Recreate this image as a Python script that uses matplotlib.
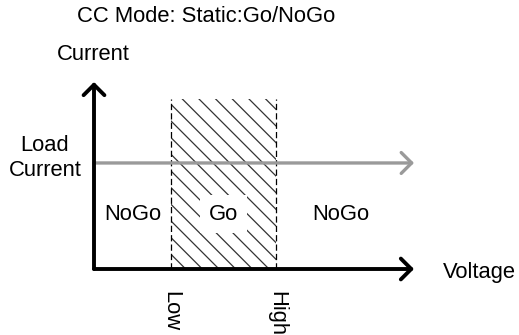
import matplotlib
matplotlib.use("Agg")
import matplotlib.pyplot as plt

plt.rcParams['font.family'] = ['Liberation Sans', 'DejaVu Sans']

# schematic values (arbitrary units, axis tips at 10)
axis_max = [10.0, 10.0]          # voltage, current
go_window = [2.4, 5.7]           # low / high voltage limit
go_top = 9.1                     # top of the hatched Go area
load_current = 5.67
window_labels = ['Low', 'High']
zone_labels = ['NoGo', 'Go', 'NoGo']
zone_x = [1.2, 4.05, 7.7]
zone_y = 2.94

fs = 15.8
fig = plt.figure(figsize=(5.19, 3.35), dpi=100)
W, H = 519, 335
ax = fig.add_axes([94 / W, 1 - 269 / H, 320 / W, 187 / H])
ax.set_xlim(0, axis_max[0])
ax.set_ylim(0, axis_max[1])
ax.axis('off')

# Go area, hatched
plt.rcParams['hatch.linewidth'] = 0.9
ax.fill_between(go_window, 0, go_top, facecolor='none', edgecolor='#333333',
                hatch='\\\\', linewidth=0, zorder=1)
for x in go_window:
    ax.plot([x, x], [0, go_top], color='black', lw=0.9, ls=(0, (5, 2.5)), zorder=2)

arrow = '->,head_length=0.75,head_width=0.75'
# load current line (grey arrow)
ax.annotate('', xy=(axis_max[0], load_current), xytext=(0, load_current),
            arrowprops=dict(arrowstyle=arrow, lw=2.4, color='#9a9a9a',
                            shrinkA=0, shrinkB=0), zorder=3)

# axes arrows
ax.annotate('', xy=(axis_max[0], 0), xytext=(0, 0),
            arrowprops=dict(arrowstyle=arrow, lw=2.8, color='black',
                            shrinkA=0, shrinkB=0), zorder=4)
ax.annotate('', xy=(0, axis_max[1]), xytext=(0, 0),
            arrowprops=dict(arrowstyle=arrow, lw=2.8, color='black',
                            shrinkA=0, shrinkB=0), zorder=4)

# zone labels
for lbl, x in zip(zone_labels, zone_x):
    kw = {}
    if lbl == 'Go':
        kw['bbox'] = dict(boxstyle='square,pad=0.4', fc='white', ec='none')
    ax.text(x, zone_y, lbl, ha='center', va='center', fontsize=fs, zorder=5, **kw)

# Low / High under the axis
for lbl, x in zip(window_labels, go_window):
    ax.text(x, -1.2, lbl, rotation=270, ha='center', va='top', fontsize=fs)

ax.text(10.9, -0.2, 'Voltage', ha='left', va='center', fontsize=fs)
ax.text(-1.53, 5.94, 'Load\nCurrent', ha='center', va='center',
        multialignment='center', fontsize=fs, linespacing=1.2)
ax.text(-1.16, 11.47, 'Current', ha='left', va='center', fontsize=fs)
ax.text(-0.53, 13.48, 'CC Mode: Static:Go/NoGo', ha='left', va='center', fontsize=fs)

fig.savefig('out.png', dpi=100)
